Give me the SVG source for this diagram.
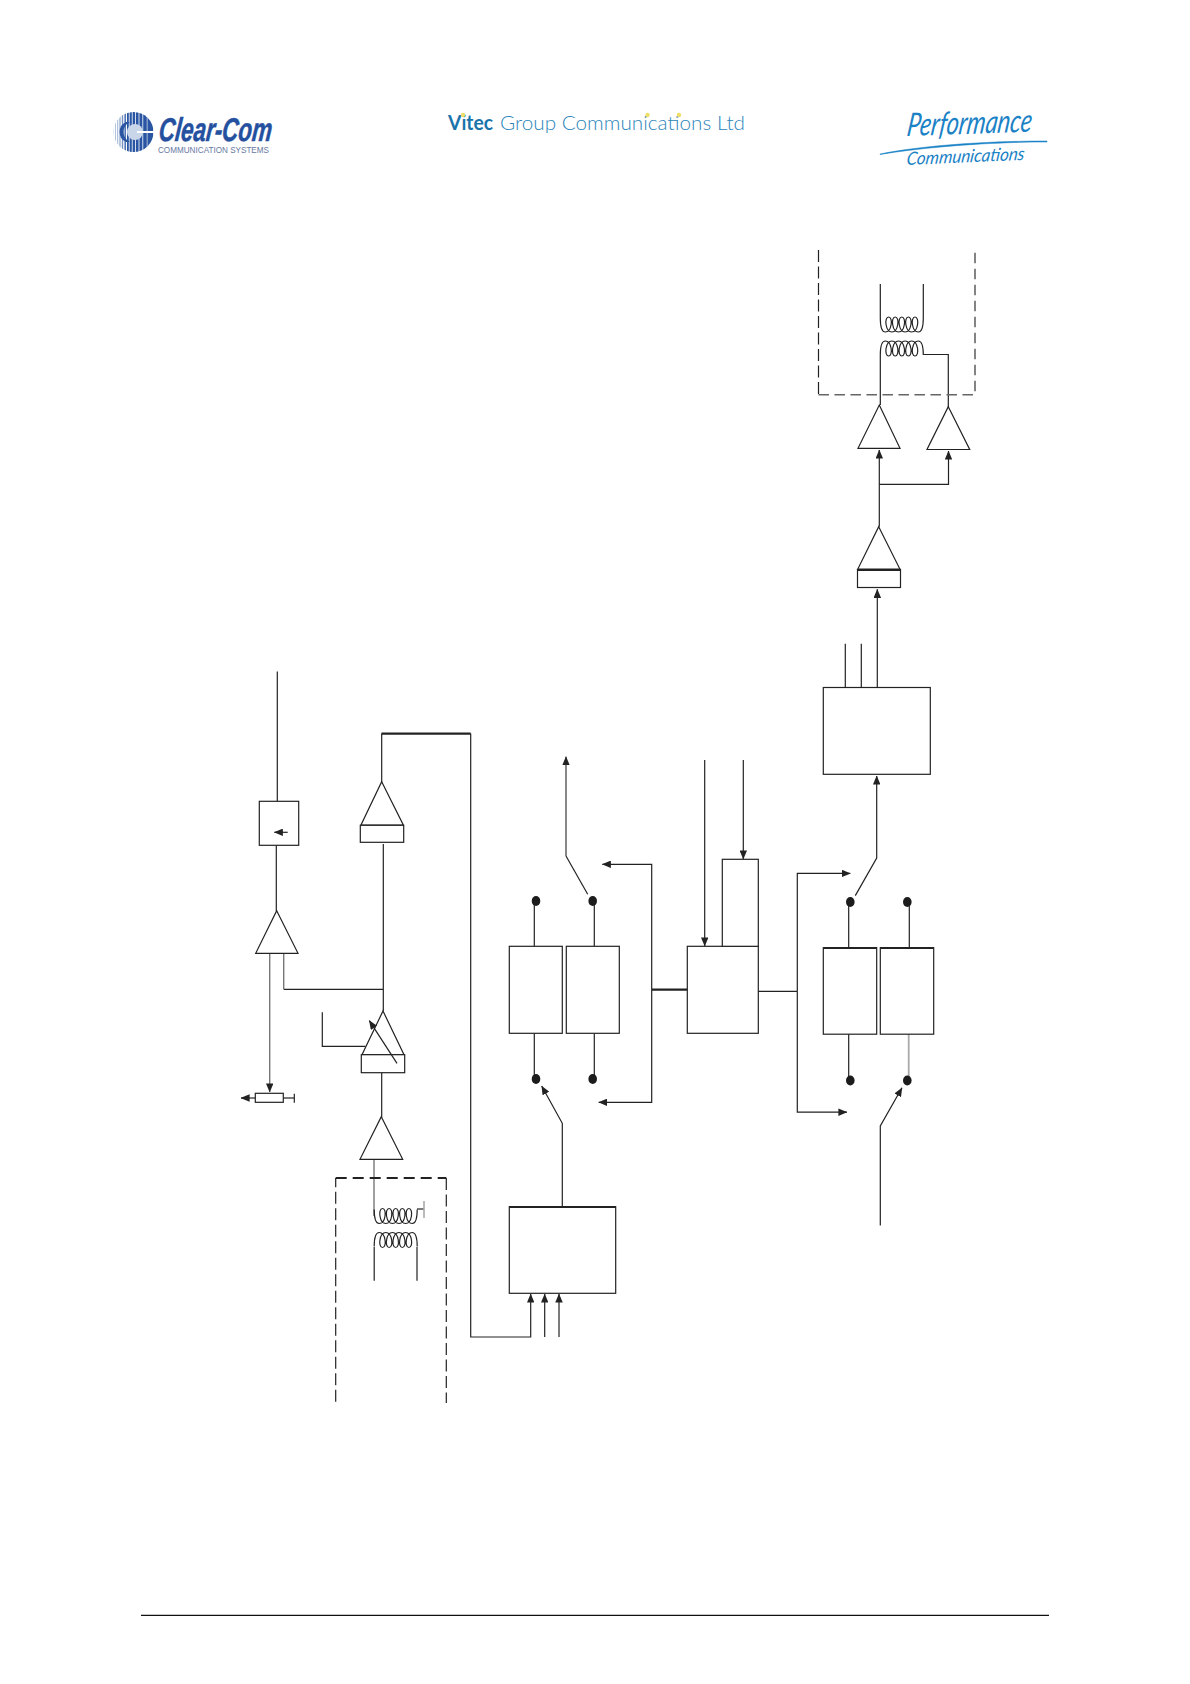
<svg xmlns="http://www.w3.org/2000/svg" width="1190" height="1684" viewBox="0 0 1190 1684">
<style>
.l{fill:none;stroke:#222;stroke-width:1.2}
.n{fill:#fff;stroke:#222;stroke-width:1.2}
.t{fill:none;stroke:#222;stroke-width:2.2}
.g{fill:none;stroke:#777;stroke-width:1.4}
.d{fill:none;stroke:#222;stroke-width:1.2;stroke-dasharray:12 4.5}
.dg{fill:none;stroke:#666;stroke-width:1.6;stroke-dasharray:10.5 5.5}
.dot{fill:#1c1c1c}
.a{marker-end:url(#ah)}
</style>
<defs>
<marker id="ah" viewBox="0 0 9 7.5" refX="8.6" refY="3.75" markerWidth="9" markerHeight="7.5" markerUnits="userSpaceOnUse" orient="auto"><path d="M0,0L9,3.75L0,7.5Z" fill="#222"/></marker>
<path id="coil" class="l" d="M0,14C0,3 2,0 5,0c6.5,0 8,15 3.3,15c-4.7,0 -3.2,-15 3.3,-15c6.5,0 8,15 3.3,15c-4.7,0 -3.2,-15 3.3,-15c6.5,0 8,15 3.3,15c-4.7,0 -3.2,-15 3.3,-15c6.5,0 8,15 3.3,15c-4.7,0 -3.2,-15 3.3,-15c6.5,0 8,15 3.3,15c-4.7,0 -3.2,-15 3.3,-15c3,0 5,3 5,14"/>
<clipPath id="disc"><circle cx="133.5" cy="132" r="20"/></clipPath>
</defs>
<rect width="1190" height="1684" fill="#fff"/>

<g id="logo-clearcom">
<g clip-path="url(#disc)" fill="#2a55a3">
<rect x="113" y="110" width="0.8" height="44" opacity=".35"/><rect x="115" y="110" width="0.9" height="44" opacity=".4"/><rect x="117.2" y="110" width="1" height="44" opacity=".45"/><rect x="119.4" y="110" width="1.2" height="44" opacity=".55"/><rect x="121.8" y="110" width="1.4" height="44" opacity=".65"/><rect x="124.4" y="110" width="1.6" height="44" opacity=".8"/><rect x="127" y="110" width="1.8" height="44"/><rect x="129.6" y="110" width="2.2" height="44"/><rect x="132.6" y="110" width="2.4" height="44"/><rect x="135.8" y="110" width="2.8" height="44"/><rect x="139.4" y="110" width="3" height="44"/><rect x="143.2" y="110" width="3.6" height="44"/><rect x="147.4" y="110" width="6" height="44"/>
</g>
<circle cx="135" cy="132" r="8" fill="#c9d6ea"/>
<path d="M126,122A11,11 0 0 0 126,142L130,142A11,11 0 0 1 130,122Z" fill="#2a55a3"/>
<rect x="137" y="131" width="17" height="2" fill="#fff"/>
<text transform="translate(158,140.7) skewX(-6)" font-family="'Liberation Sans',sans-serif" font-weight="700" font-style="italic" font-size="33" textLength="113" lengthAdjust="spacingAndGlyphs" fill="#24509f" stroke="#24509f" stroke-width=".5">Clear-Com</text>
<text x="158" y="152.8" font-family="'Liberation Sans',sans-serif" font-size="8.6" textLength="111" lengthAdjust="spacingAndGlyphs" fill="#66789f">COMMUNICATION SYSTEMS</text>
</g>

<g id="logo-vitec">
<text x="448" y="130" font-family="'Lato',sans-serif" font-weight="700" font-size="20" textLength="45" lengthAdjust="spacingAndGlyphs" fill="#1a73ab">Vitec</text>
<text x="500" y="130" font-family="'Lato',sans-serif" font-weight="300" font-size="20.5" textLength="245" lengthAdjust="spacingAndGlyphs" fill="#2c85ba">Group Communications Ltd</text>
<g fill="#eedd66"><circle cx="463" cy="115" r="2.2"/><circle cx="647.5" cy="115" r="2.2"/><circle cx="679" cy="115" r="2.2"/></g>
</g>

<g id="logo-performance" fill="#1b82c6">
<text transform="translate(906,136) rotate(-2) skewX(-10)" font-family="'Lato',sans-serif" font-style="italic" font-size="32" textLength="125" lengthAdjust="spacingAndGlyphs">Performance</text>
<path d="M880,154C925,145 990,141 1047,141C1047,142 1047,142 1047,142C990,142 925,147 880,154.5Z" stroke="#1b82c6" stroke-width=".5"/>
<text transform="translate(906,165) rotate(-2.5) skewX(-10)" font-family="'Lato',sans-serif" font-style="italic" font-size="18" textLength="118" lengthAdjust="spacingAndGlyphs">Communications</text>
</g>

<g id="connectors">
<!-- output stage -->
<path class="l" d="M880.3,284V318M923.3,284V318"/>
<path class="l" d="M880.3,355V405M923.3,354.5H948.3V407"/>
<path class="l a" d="M879.3,526.7V450"/>
<path class="l a" d="M879.3,484.3H948.5V451"/>
<path class="l a" d="M877.3,687.5V589.3"/>
<path class="l" d="M845.3,643.8V687.5M861.3,643.8V687.5"/>
<path class="l a" d="M855.3,895.6L876.7,858.1V775.9"/>
<path class="l" d="M848.7,902V947.7M909.3,902V947.7M848.7,1034V1080"/>
<path d="M908.7,1034V1080" fill="none" stroke="#aaa" stroke-width="1.8"/>
<path class="l" d="M758,991.3H797.3"/>
<path class="l a" d="M797.3,991.3V873.4H850.3"/>
<path class="l a" d="M797.3,991.3V1112.2H847"/>
<path class="l a" d="M880.3,1225.5V1126L902,1087.8"/>
<!-- middle stage -->
<path class="l a" d="M704.7,760V946"/>
<path class="l a" d="M743.3,760V859"/>
<path class="t" d="M651.7,989.7H687.3"/>
<path class="l a" d="M651.7,989.7V864.3H602.3"/>
<path class="l a" d="M651.7,989.7V1102.3H598.7"/>
<path class="l" d="M534.3,901V946.3M594.3,901V946.3M534.3,1033.3V1079M594.3,1033.3V1079"/>
<path class="g a" d="M566,856V756.7" style="stroke:#555"/>
<path class="l" d="M566,856L587.7,894.3"/>
<path class="l a" d="M562.3,1206.7V1123.3L541.7,1086"/>
<!-- bus to decoder -->
<path class="t" d="M381.5,733.6H470.7"/>
<path class="l" d="M381.7,733.6V782"/>
<path class="l a" d="M470.7,733.6V1337H530.7V1294"/>
<path class="l a" d="M544.7,1337V1294"/>
<path class="l a" d="M559,1337V1294"/>
<!-- input stage -->
<path class="l" d="M277.3,671.4V801.3M276.3,845.3V911"/>
<path class="l" d="M383.3,844V1011M283.7,989.3H383.3"/>
<path class="g" d="M283.7,953.3V989.3"/>
<path class="g a" d="M269.7,953.3V1092"/>
<path class="l" d="M381.7,1072.7V1117"/>
<path class="g" d="M374,1159.3V1216"/>
<path class="l" d="M322.3,1012.3V1046.3H365.3"/>
<path class="l" d="M374.2,1247V1280.7M417,1247V1280.7"/>
<path class="l" d="M417,1209H424"/>
<path d="M424,1201V1218" fill="none" stroke="#aaa" stroke-width="1.6"/>
<path class="l" d="M294.3,1098H283.3"/>
<path class="l" d="M294.3,1093.7V1102.7"/>
<path class="l a" d="M255.3,1098H241"/>
</g>

<g id="dash-output"><path class="d" d="M818.5,250V394.7" /><path class="dg" d="M818.5,394.7H975V250"/></g>
<g id="dash-input"><path class="d" d="M335.7,1401.7V1178" /><path class="d" style="stroke-width:1.8;stroke-dasharray:11 6" d="M335.7,1178H446.3"/><path class="d" d="M446.3,1178V1403"/></g>

<g id="coil-out"><use href="#coil" transform="translate(880.3,332) scale(1,-1)"/><use href="#coil" transform="translate(880.3,341)"/></g>
<g id="coil-in"><use href="#coil" transform="translate(374.2,1223.5) scale(1,-1)"/><use href="#coil" transform="translate(374.2,1232.5)"/></g>

<g id="amp-out-a"><path class="n" d="M879.3,405L900,448.3H858Z"/></g>
<g id="amp-out-b"><path class="n" d="M948.3,406.7L969.7,449.5H927Z"/></g>
<g id="amp-out-c"><path class="n" d="M878.7,526.7L900,569.3H857.7Z"/><rect class="n" x="857.5" y="569.5" width="43" height="18"/><path class="t" d="M857.5,569.8H900.5"/></g>
<g id="box-out"><rect class="n" x="823.3" y="687.5" width="107" height="86.8"/></g>
<g id="box-r1"><rect class="n" x="823.3" y="947.7" width="53.4" height="86.5"/><path class="t" d="M823.3,948H876.7"/></g>
<g id="box-r2"><rect class="n" x="880.3" y="947.7" width="53.4" height="86.5"/><path class="t" d="M880.3,948H933.7"/></g>
<g id="box-mid"><rect class="n" x="687.3" y="946.3" width="71" height="87"/></g>
<g id="box-mid-top"><rect class="n" x="722.3" y="859.3" width="36" height="87"/></g>
<g id="box-l1"><rect class="n" x="509.3" y="946.3" width="53" height="87"/></g>
<g id="box-l2"><rect class="n" x="566.3" y="946.3" width="53" height="87"/></g>
<g id="box-dec"><rect class="n" x="509.3" y="1206.7" width="106.4" height="86.6"/><path class="t" d="M509.3,1207H615.7"/></g>
<g id="box-limit"><rect class="n" x="259.3" y="801.3" width="39.4" height="44"/><path class="l a" d="M287.7,832.3H274.3"/></g>
<g id="amp-in-a"><path class="n" d="M276.7,910.7L298,953.3H255.7Z"/></g>
<g id="amp-in-b"><path class="n" d="M381.7,781.7L403.3,825H361Z"/><rect class="n" x="360.3" y="825.3" width="43.4" height="17"/></g>
<g id="amp-in-c"><path class="n" d="M383,1011L404,1054.7H362Z"/><rect class="n" x="361.3" y="1054.7" width="43.4" height="18"/><path class="l a" d="M397,1063.3L369.3,1020.7"/></g>
<g id="amp-in-d"><path class="n" d="M381.3,1116.7L402.7,1159.3H360Z"/></g>
<g id="pot"><rect class="n" x="255.3" y="1093.3" width="28" height="9"/></g>

<g id="contacts">
<ellipse class="dot" cx="536" cy="901" rx="4.3" ry="5"/><ellipse class="dot" cx="592.7" cy="901" rx="4.3" ry="5"/>
<ellipse class="dot" cx="536" cy="1079" rx="4.3" ry="5"/><ellipse class="dot" cx="592.7" cy="1079" rx="4.3" ry="5"/>
<ellipse class="dot" cx="850.3" cy="902" rx="4.3" ry="5"/><ellipse class="dot" cx="907.3" cy="902" rx="4.3" ry="5"/>
<ellipse class="dot" cx="850.3" cy="1080.5" rx="4.3" ry="5"/><ellipse class="dot" cx="907.3" cy="1080.5" rx="4.3" ry="5"/>
</g>

<path id="footer-rule" d="M141,1615.4H1049" fill="none" stroke="#111" stroke-width="1.2"/>
</svg>
